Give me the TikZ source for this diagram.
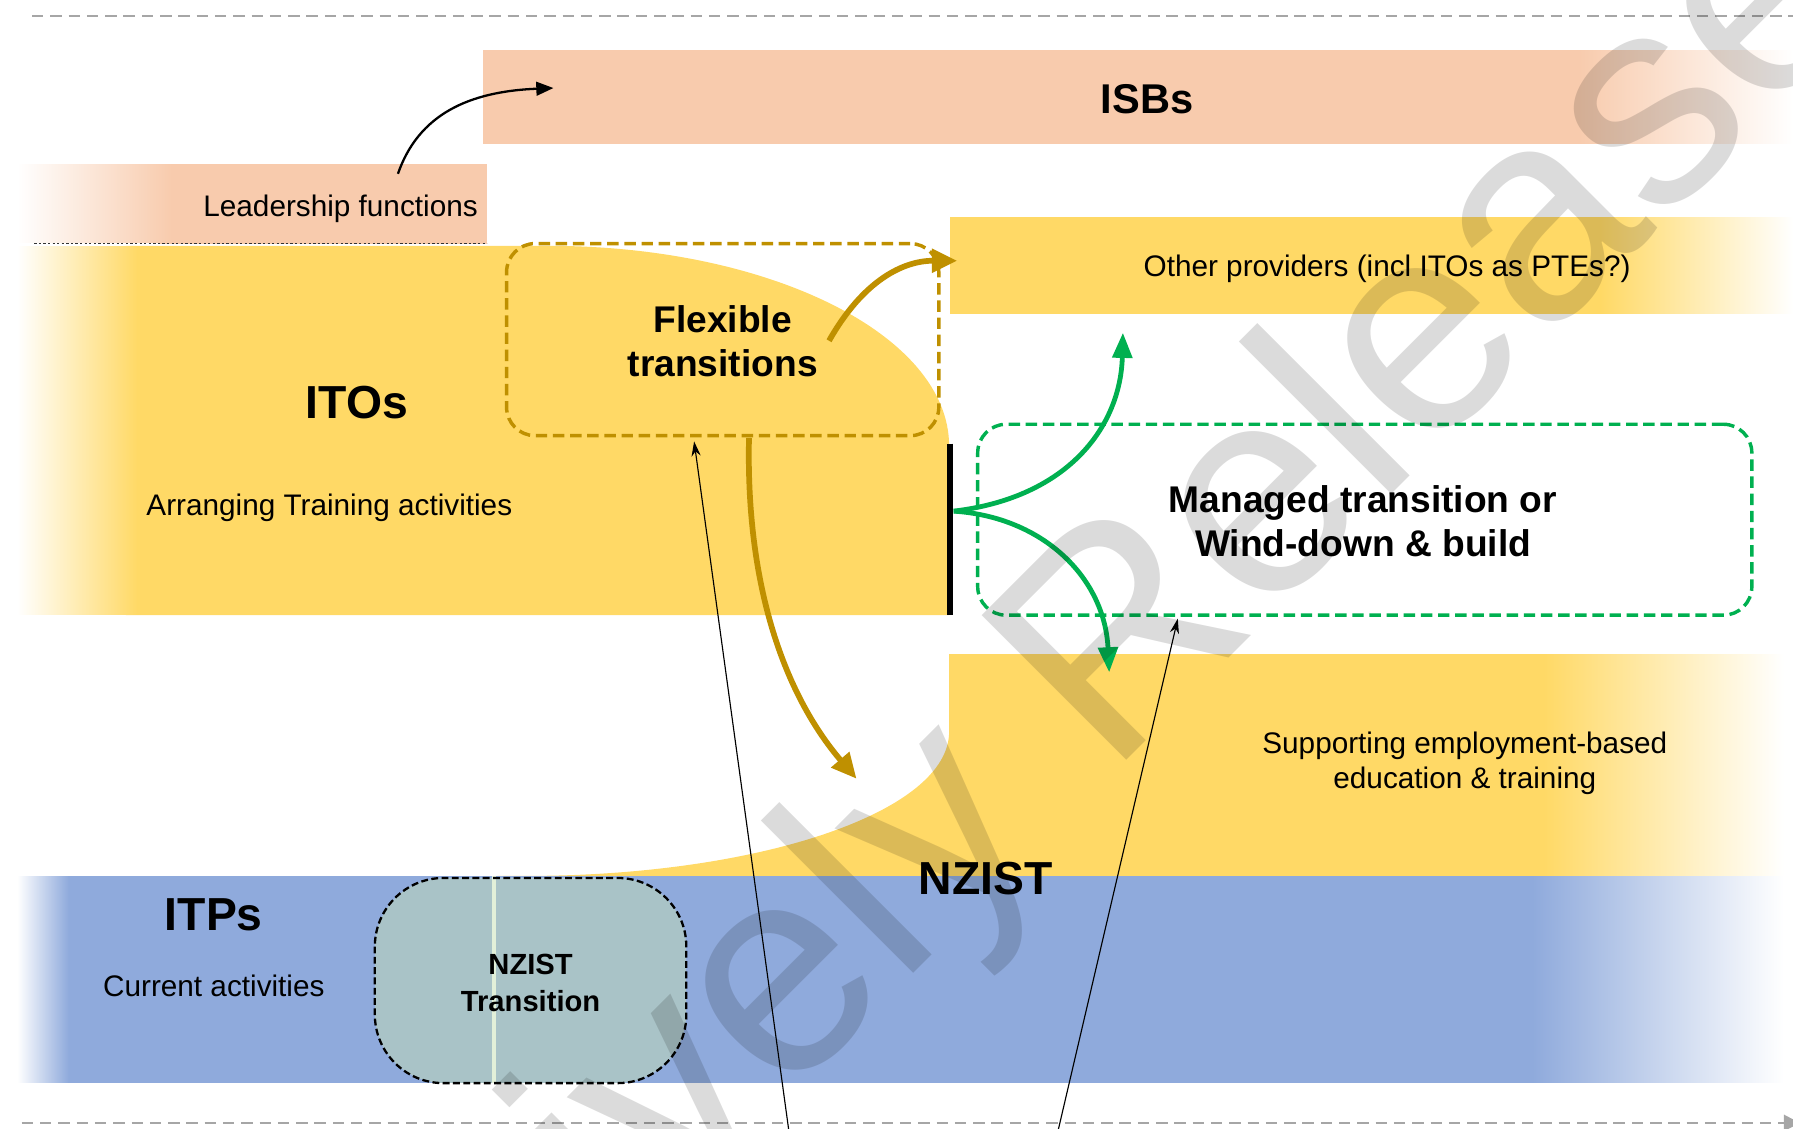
\documentclass[tikz,border=0pt]{standalone}
\usepackage{fontspec}
\setmainfont{Liberation Sans}
\usetikzlibrary{arrows.meta}
\definecolor{peach}{HTML}{F8CBAD}
\definecolor{ygold}{HTML}{FFD966}
\definecolor{blueband}{HTML}{8FAADC}
\definecolor{darkgold}{HTML}{BF9000}
\definecolor{mygreen}{HTML}{00B050}
\definecolor{tealbox}{HTML}{A9C3C7}
\definecolor{paleline}{HTML}{E2F0D9}
\definecolor{dashgrey}{HTML}{A6A6A6}
\begin{document}
\begin{tikzpicture}[x=1pt,y=-1pt,
  txt/.style={inner sep=0pt, align=center, text=black},
  hugebold/.style={txt, font=\fontsize{40.5}{48}\selectfont\bfseries},
  midbold/.style={txt, font=\fontsize{32.5}{38.5}\selectfont\bfseries},
  smallbold/.style={txt, font=\fontsize{25.5}{32}\selectfont\bfseries},
  plain/.style={txt, font=\fontsize{26}{30}\selectfont},
  greyline/.style={draw=dashgrey, line width=2.4, dash pattern=on 10pt off 6pt},
  goldarrow/.style={draw=darkgold, line width=5, -{Triangle[length=22,width=20]}},
  greenarrow/.style={draw=mygreen, line width=4.2, -{Triangle[length=22,width=17]}},
  thinarrow/.style={draw=black, line width=1, -{Stealth[length=13,width=8]}},
]
\useasboundingbox (0,0) rectangle (1568,987);
\clip (0,0) rectangle (1568,987);

% grey dashed frame lines
\coordinate (topL) at (28,14);
\coordinate (topR) at (1568,14);
\coordinate (botL) at (19,982);
\coordinate (botR) at (1574,982);
\draw[greyline] (topL) -- (topR);
\draw[greyline, -{Triangle[length=14,width=14]}] (botL) -- (botR);

% ISBs band
\fill[peach] (422,44) rectangle (1385,126);
\shade[left color=peach, right color=white] (1380,44.5) rectangle (1568,125.5);

% Leadership band
\fill[peach] (140,143) rectangle (426,213);
\shade[left color=white, right color=peach] (15,143.5) rectangle (150,212.5);
\draw[black!80, line width=1.4, dash pattern=on 2pt off 2pt] (30,213) -- (426,213);

% ITOs band
\fill[ygold] (110,215) -- (480,215) .. controls (673,215) and (830,293) .. (830,390)
  -- (830,538) -- (110,538) -- cycle;
\shade[left color=white, right color=ygold] (15,215.5) rectangle (120,537.5);

% Other providers band
\fill[ygold] (831,190) rectangle (1405,275);
\shade[left color=ygold, right color=white] (1400,190.5) rectangle (1568,274.5);

% NZIST yellow band
\fill[ygold] (435,766) -- (1355,766) -- (1355,572) -- (830,572) -- (830,640)
  .. controls (830,710) and (664,766) .. (460,766) -- cycle;
\shade[left color=ygold, right color=white] (1350,572.5) rectangle (1560,765.5);

% ITPs blue band
\fill[blueband] (50,766) rectangle (1345,947);
\shade[left color=white, right color=blueband] (15,766.5) rectangle (60,946.5);
\shade[left color=blueband, right color=white] (1340,766.5) rectangle (1560,946.5);

% NZIST Transition box
\node[fill=tealbox, rounded corners=60, minimum width=272, minimum height=179, inner sep=0] (nzt) at (464,857.5) {};
\coordinate (paleT) at (432,766);
\coordinate (paleB) at (432,947);
\draw[paleline, line width=3] (paleT) -- (paleB);
\draw[black, line width=2, dash pattern=on 6pt off 3pt, rounded corners=60] (nzt.north west) rectangle (nzt.south east);

% Flexible transitions box
\node[draw=darkgold, line width=3, dash pattern=on 10pt off 5pt, rounded corners=25,
  minimum width=378, minimum height=168, inner sep=0] (flex) at (632,297) {};
% Managed transition box
\node[draw=mygreen, line width=3, dash pattern=on 10pt off 5pt, rounded corners=25,
  minimum width=677, minimum height=167, inner sep=0] (managed) at (1193.5,454.5) {};

% black bar
\coordinate (barT) at (831,388);
\coordinate (barB) at (831,538);
\coordinate (barM) at (834,447);
\draw[black, line width=5] (barT) -- (barB);

% arrows
\coordinate (leadout) at (348,152);
\coordinate (isbin) at (484,77);
\draw[black, line width=2, -{Triangle[length=15,width=12]}] (leadout) .. controls (366,100) and (410,80) .. (isbin);

\coordinate (flexout) at (725,298);
\coordinate (opin) at (837,228);
\draw[goldarrow] (flexout) .. controls (755,245) and (790,228) .. (opin);

\coordinate (flexdown) at (655,383);
\coordinate (nzin) at (749,681);
\draw[goldarrow] (flexdown) .. controls (652,520) and (690,612) .. (nzin);

\coordinate (greenup) at (982,291);
\coordinate (greendown) at (970,588);
\draw[greenarrow] (barM) .. controls (935,435) and (980,372) .. (greenup);
\draw[greenarrow] (barM) .. controls (912,452) and (966,505) .. (greendown);

\coordinate (thinA) at (690,990);
\coordinate (flexin) at (607,386);
\coordinate (thinB) at (925,990);
\coordinate (managedin) at (1030,541);
\draw[thinarrow] (thinA) -- (flexin);
\draw[thinarrow] (thinB) -- (managedin);

% watermark
\node[rotate=45, anchor=base west, inner sep=0, text=black, text opacity=0.14,
  font=\fontsize{260}{260}\selectfont] (wm) at (20,1630) {Proactively Released};

% texts
\node[txt, font=\fontsize{36.4}{44}\selectfont\bfseries] (isbs) at (1003,87) {ISBs};
\node[plain, anchor=east] (lead) at (418,182.5) {Leadership functions};
\node[hugebold] (itos) at (312,352) {ITOs};
\node[plain] (arr) at (288,444.5) {Arranging Training activities};
\node[midbold] (flext) at (632,298) {Flexible\\transitions};
\node[plain] (other) at (1213,235.5) {Other providers (incl ITOs as PTEs?)};
\node[midbold] (mant) at (1192,456) {Managed transition or\\Wind-down \& build};
\node[plain] (supp) at (1281,667.5) {Supporting employment-based\\education \& training};
\node[hugebold] (nzist) at (862,768) {NZIST};
\node[hugebold] (itps) at (187,800) {ITPs};
\node[plain] (curr) at (187,862) {Current activities};
\node[smallbold] (nztt) at (464,859.5) {NZIST\\Transition};
\end{tikzpicture}
\end{document}
